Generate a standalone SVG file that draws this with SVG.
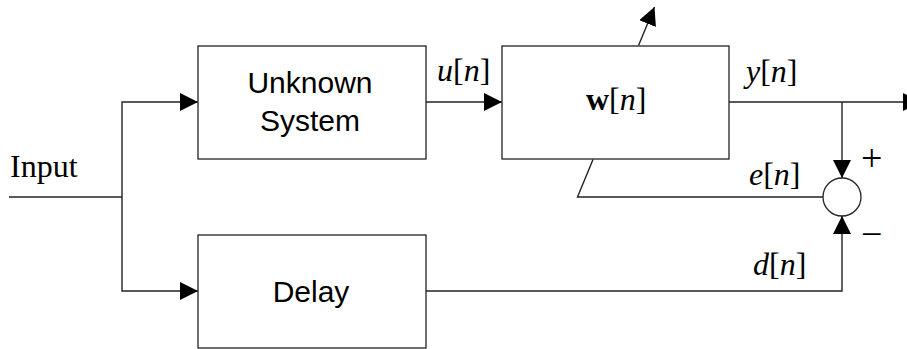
<svg xmlns="http://www.w3.org/2000/svg" width="907" height="349" viewBox="0 0 907 349">
  <style>
    .box { fill: #fff; stroke: #222; stroke-width: 1.3; }
    .wire { fill: none; stroke: #222; stroke-width: 1.4; }
    .sans { font-family: "Liberation Sans", Arial, sans-serif; font-size: 30px; fill: #000; }
    .serif { font-family: "Liberation Serif", "Times New Roman", serif; font-size: 32px; fill: #000; }
    .sign { font-family: "Liberation Serif", "Times New Roman", serif; font-size: 38px; fill: #000; }
    .it { font-style: italic; }
    .bd { font-weight: bold; }
  </style>
  <defs>
    <marker id="arr" markerUnits="userSpaceOnUse" markerWidth="18" markerHeight="18" refX="18" refY="9" orient="auto">
      <path d="M0,0 L18,9 L0,18 z" fill="#000"/>
    </marker>
  </defs>

  <g id="connectors">
    <line class="wire" x1="9" y1="197" x2="122" y2="197"/>
    <polyline class="wire" points="122,197 122,102 198,102" marker-end="url(#arr)"/>
    <polyline class="wire" points="122,197 122,291 198,291" marker-end="url(#arr)"/>
    <line class="wire" x1="426" y1="102" x2="502" y2="102" marker-end="url(#arr)"/>
    <line class="wire" x1="729" y1="102" x2="921" y2="102" marker-end="url(#arr)"/>
    <line class="wire" x1="842" y1="102" x2="842" y2="178" marker-end="url(#arr)"/>
    <polyline class="wire" points="426,291 842,291 842,216" marker-end="url(#arr)"/>
    <polyline class="wire" points="823,197 577.5,197 593,159.5"/>
    <line class="wire" x1="638.5" y1="45.5" x2="654.5" y2="7" marker-end="url(#arr)"/>
  </g>

  <g id="input-label">
    <text class="serif" x="10" y="177">Input</text>
  </g>

  <g id="unknown-system">
    <rect class="box" x="198" y="46" width="228" height="113"/>
    <text class="sans" x="310" y="93" text-anchor="middle">Unknown</text>
    <text class="sans" x="310" y="131" text-anchor="middle">System</text>
  </g>

  <g id="delay">
    <rect class="box" x="198" y="235" width="228" height="113"/>
    <text class="sans" x="311" y="302" text-anchor="middle">Delay</text>
  </g>

  <g id="filter">
    <rect class="box" x="502" y="46" width="227" height="113"/>
    <text class="serif" x="586" y="110"><tspan class="bd">w</tspan>[<tspan class="it">n</tspan>]</text>
  </g>

  <g id="summer">
    <circle cx="842" cy="197" r="19" fill="#fff" stroke="#222" stroke-width="1.3"/>
    <text class="sign" x="861" y="171">+</text>
    <text class="sign" x="861" y="247">−</text>
  </g>

  <g id="labels">
    <text class="serif" x="437" y="81"><tspan class="it">u</tspan>[<tspan class="it">n</tspan>]</text>
    <text class="serif" x="746" y="82"><tspan class="it">y</tspan>[<tspan class="it">n</tspan>]</text>
    <text class="serif" x="749" y="185"><tspan class="it">e</tspan>[<tspan class="it">n</tspan>]</text>
    <text class="serif" x="753" y="275"><tspan class="it">d</tspan>[<tspan class="it">n</tspan>]</text>
  </g>
</svg>
